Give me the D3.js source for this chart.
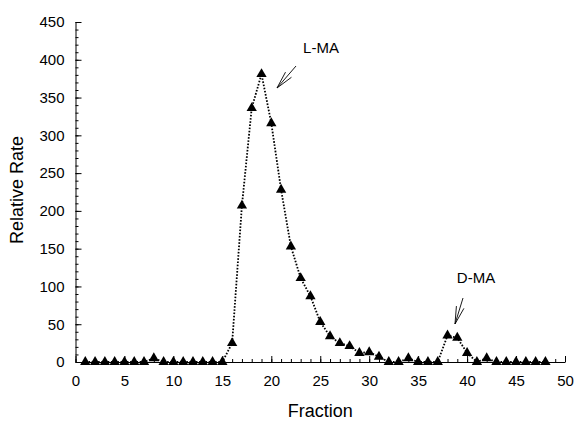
<!DOCTYPE html>
<html>
<head>
<meta charset="utf-8">
<script src="https://cdn.jsdelivr.net/npm/d3@7"></script>
<style>
  body { margin: 0; background: #fff; }
  text { font-family: "Liberation Sans", Arial, sans-serif; fill: #000; }
</style>
</head>
<body>
<div id="chart"></div>
<script>
var fractions = d3.range(1, 49);
var rates = [0, 0, 0, 0, 0, 0, 0, 5, 0, 0, 0, 0, 0, 0, 0, 25,
             207, 336, 381, 316, 228, 153, 111, 87, 53, 34, 25, 21, 12, 13, 7, 0,
             0, 5, 0, 0, 0, 35, 32, 12, 0, 5, 0, 0, 0, 0, 0, 0];
var xTicks = [0, 5, 10, 15, 20, 25, 30, 35, 40, 45, 50];
var yTicks = [0, 50, 100, 150, 200, 250, 300, 350, 400, 450];
var notes = [
    {label: 'L-MA', tx: 321, ty: 53, from: [296, 66], to: [277, 88]},
    {label: 'D-MA', tx: 476, ty: 283, from: [463, 298], to: [455, 324]}
];

(function () {
    var width = 575,
        height = 424,
        left = 75.5,
        right = 565,
        plotTop = 22,
        bottom = 362;

    var svg = d3.select('#chart')
        .append('svg')
        .attr('width', width)
        .attr('height', height);

    var x = d3.scaleLinear().domain([0, 50]).range([left, right]);
    var y = d3.scaleLinear().domain([0, 450]).range([bottom, plotTop]);

    // minor ticks first, then major ticks with labels
    svg.append('g')
        .attr('transform', 'translate(0,' + bottom + ')')
        .call(d3.axisTop(x).tickValues(d3.range(0, 51)).tickSize(3).tickFormat(''))
        .call(function (g) { g.select('.domain').remove(); });

    svg.append('g')
        .attr('transform', 'translate(' + left + ',0)')
        .call(d3.axisRight(y).tickValues(d3.range(0, 451, 10)).tickSize(3).tickFormat(''))
        .call(function (g) { g.select('.domain').remove(); });

    var xAxis = svg.append('g')
        .attr('transform', 'translate(0,' + bottom + ')')
        .call(d3.axisTop(x).tickValues(xTicks).tickSize(6).tickSizeOuter(0));
    xAxis.selectAll('text')
        .attr('y', 24)
        .style('font-size', '15px');

    var yAxis = svg.append('g')
        .attr('transform', 'translate(' + left + ',0)')
        .call(d3.axisRight(y).tickValues(yTicks).tickSize(6).tickSizeOuter(0));
    yAxis.selectAll('text')
        .attr('x', -11)
        .attr('text-anchor', 'end')
        .style('font-size', '15px');

    svg.selectAll('.domain, .tick line').attr('stroke', '#000').attr('stroke-width', 1);

    var line = d3.line()
        .x(function (d, i) { return x(fractions[i]); })
        .y(function (d) { return y(d); });

    svg.append('path')
        .datum(rates)
        .attr('d', line)
        .attr('fill', 'none')
        .attr('stroke', '#000')
        .attr('stroke-width', 1.8)
        .attr('stroke-dasharray', '1.6 1.6');

    var triangle = d3.symbol().type(d3.symbolTriangle).size(46);

    svg.selectAll('.pt')
        .data(rates)
        .enter()
        .append('path')
        .attr('class', 'pt')
        .attr('d', triangle)
        .attr('transform', function (d, i) {
            return 'translate(' + x(fractions[i]) + ',' + y(d) + ')';
        })
        .attr('fill', '#000');

    // annotation arrows: shaft plus two long, narrow head lines
    notes.forEach(function (n) {
        var g = svg.append('g').attr('stroke', '#000').attr('stroke-width', 0.9).attr('fill', 'none');
        var ang = Math.atan2(n.from[1] - n.to[1], n.from[0] - n.to[0]);
        g.append('line')
            .attr('x1', n.from[0]).attr('y1', n.from[1])
            .attr('x2', n.to[0]).attr('y2', n.to[1]);
        [-0.22, 0.22].forEach(function (a) {
            g.append('line')
                .attr('x1', n.to[0]).attr('y1', n.to[1])
                .attr('x2', n.to[0] + 18 * Math.cos(ang + a))
                .attr('y2', n.to[1] + 18 * Math.sin(ang + a));
        });
        svg.append('text')
            .attr('x', n.tx)
            .attr('y', n.ty)
            .attr('text-anchor', 'middle')
            .style('font-size', '15px')
            .text(n.label);
    });

    svg.append('text')
        .attr('x', (left + right) / 2)
        .attr('y', 417)
        .attr('text-anchor', 'middle')
        .style('font-size', '18px')
        .text('Fraction');

    svg.append('text')
        .attr('transform', 'translate(23,190) rotate(-90)')
        .attr('text-anchor', 'middle')
        .style('font-size', '18px')
        .text('Relative Rate');
}());
</script>
</body>
</html>
